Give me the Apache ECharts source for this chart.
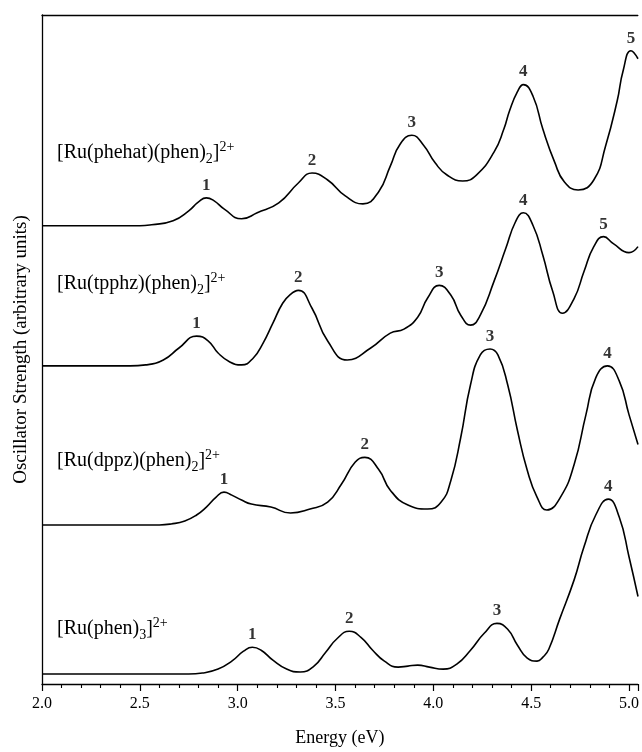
<!DOCTYPE html>
<html>
<head>
<meta charset="utf-8">
<script src="https://cdn.jsdelivr.net/npm/echarts@6/dist/echarts.min.js"></script>
<style>
html,body{margin:0;padding:0;background:#fff;}
#chart{width:642px;height:752px;}
</style>
</head>
<body>
<div id="chart"></div>
<script>
// Energy (eV) range shown
const energyMin = 2.0;
const energyMax = 5.045;
const tickValues = [2.0, 2.5, 3.0, 3.5, 4.0, 4.5, 5.0];

// Vertical offsets of each spectrum (arbitrary units)
const offsets = { phehat: 46.1, tpphz: 32.0, dppz: 16.0, phen3: 1.0 };

// Spectra: [energy (eV), oscillator strength above own baseline (arb. units)]
const phehat = [[2.0,0],[2.5,0],[2.56,0.1],[2.67,0.5],[2.75,1.5],[2.80,2.4],[2.84,2.8],[2.88,2.5],[2.93,1.7],[3.02,0.7],[3.10,1.3],[3.21,2.3],[3.31,4.3],[3.38,5.3],[3.46,4.6],[3.55,3.0],[3.64,2.2],[3.72,3.4],[3.78,6.0],[3.83,8.2],[3.89,9.1],[3.95,8.1],[4.01,6.3],[4.07,5.1],[4.15,4.5],[4.22,5.1],[4.31,7.4],[4.36,9.7],[4.39,11.6],[4.43,13.5],[4.46,14.2],[4.51,13.0],[4.56,9.7],[4.62,6.4],[4.67,4.4],[4.74,3.6],[4.82,4.6],[4.88,8.0],[4.94,12.6],[4.97,15.6],[5.01,17.6],[5.046,16.8]];
const tpphz = [[2.0,0],[2.45,0],[2.53,0.1],[2.62,0.6],[2.70,1.8],[2.79,3.0],[2.85,2.5],[2.90,1.3],[2.96,0.4],[3.02,0.1],[3.08,0.8],[3.13,2.3],[3.18,4.3],[3.23,6.3],[3.27,7.2],[3.31,7.6],[3.38,5.8],[3.46,2.5],[3.56,0.6],[3.68,1.8],[3.78,3.3],[3.85,3.7],[3.92,4.9],[3.97,6.8],[4.03,8.1],[4.09,7.1],[4.14,5.1],[4.19,4.1],[4.24,5.1],[4.31,8.5],[4.37,11.8],[4.42,14.5],[4.46,15.4],[4.51,14.1],[4.56,11.1],[4.61,7.5],[4.66,5.3],[4.72,6.8],[4.77,9.5],[4.82,12.0],[4.87,13.0],[4.92,12.3],[5.00,11.4],[5.046,12.0]];
const dppz = [[2.0,0],[2.60,0],[2.66,0.1],[2.73,0.4],[2.79,1.0],[2.84,1.8],[2.89,2.8],[2.93,3.3],[2.97,3.0],[3.02,2.5],[3.07,2.1],[3.17,1.8],[3.27,1.2],[3.37,1.6],[3.46,2.3],[3.53,4.1],[3.60,6.3],[3.65,6.8],[3.72,5.6],[3.78,3.5],[3.87,2.0],[3.97,1.6],[4.04,2.3],[4.09,4.5],[4.14,8.8],[4.19,14.1],[4.24,17.1],[4.29,17.7],[4.33,17.1],[4.38,14.1],[4.43,9.5],[4.48,5.5],[4.53,2.8],[4.58,1.5],[4.65,2.8],[4.72,6.1],[4.78,11.1],[4.83,14.8],[4.89,16.0],[4.95,14.5],[5.00,11.1],[5.046,8.1]];
const phen3 = [[2.0,0],[2.75,0],[2.82,0.1],[2.90,0.5],[2.97,1.3],[3.03,2.3],[3.075,2.7],[3.12,2.4],[3.18,1.4],[3.25,0.5],[3.32,0.2],[3.39,0.8],[3.45,2.2],[3.51,3.6],[3.57,4.3],[3.63,3.7],[3.69,2.4],[3.75,1.3],[3.82,0.7],[3.87,0.8],[3.92,0.9],[3.98,0.7],[4.05,0.5],[4.12,1.0],[4.19,2.4],[4.26,4.1],[4.325,5.1],[4.38,4.5],[4.43,2.9],[4.48,1.6],[4.53,1.3],[4.56,1.7],[4.59,2.5],[4.645,5.5],[4.72,9.5],[4.77,12.8],[4.83,16.0],[4.894,17.6],[4.95,15.8],[5.00,11.8],[5.046,7.8]];

// Peak numbering: [energy, label]
const phehatPeaks = [[2.84,'1'],[3.38,'2'],[3.89,'3'],[4.46,'4'],[5.01,'5']];
const tpphzPeaks = [[2.79,'1'],[3.31,'2'],[4.03,'3'],[4.46,'4'],[4.87,'5']];
const dppzPeaks = [[2.93,'1'],[3.65,'2'],[4.29,'3'],[4.89,'4']];
const phen3Peaks = [[3.075,'1'],[3.57,'2'],[4.325,'3'],[4.894,'4']];

// Compound names (rich text: {sub|..} subscript, {sup|..} superscript)
const compoundNames = {
  phehat: '[Ru(phehat)(phen){sub|2}]{sup|2+}',
  tpphz: '[Ru(tpphz)(phen){sub|2}]{sup|2+}',
  dppz: '[Ru(dppz)(phen){sub|2}]{sup|2+}',
  phen3: '[Ru(phen){sub|3}]{sup|2+}'
};

const xTitle = 'Energy (eV)';
const yTitle = 'Oscillator Strength (arbitrary units)';

const FONT = '"Liberation Serif", "Times New Roman", serif';
const yMax = 67.3;

function shifted(arr, off) { return arr.map(p => [p[0], p[1] + off]); }
function peakData(arr, peaks, off) {
  return peaks.map(pk => {
    let best = arr[0];
    arr.forEach(p => { if (Math.abs(p[0] - pk[0]) < Math.abs(best[0] - pk[0])) best = p; });
    return { value: [best[0], best[1] + off], name: pk[1] };
  });
}

const curves = [
  ['phehat', phehat, phehatPeaks],
  ['tpphz', tpphz, tpphzPeaks],
  ['dppz', dppz, dppzPeaks],
  ['phen3', phen3, phen3Peaks]
];

const series = [];
curves.forEach(([key, arr, peaks]) => {
  const off = offsets[key];
  series.push({
    type: 'line', name: key, data: shifted(arr, off),
    showSymbol: false, smooth: 0.5,
    lineStyle: { color: '#000', width: 1.6 }, clip: true, silent: true, animation: false
  });
  series.push({
    type: 'scatter', data: peakData(arr, peaks, off), symbolSize: 0,
    silent: true, animation: false,
    label: { show: true, position: 'top', distance: 4, formatter: p => p.name,
      fontFamily: FONT, fontWeight: 'bold', fontSize: 17, color: '#000' }
  });
});

const chart = echarts.init(document.getElementById('chart'), null, { renderer: 'canvas' });

const richStyles = {
  sub: { fontSize: 14, fontFamily: FONT, fill: '#000', verticalAlign: 'bottom', lineHeight: 26 },
  sup: { fontSize: 14, fontFamily: FONT, fill: '#000', verticalAlign: 'top', lineHeight: 26 }
};
const labelPos = { phehat: 153, tpphz: 284, dppz: 461, phen3: 629 };
const graphics = Object.keys(compoundNames).map(k => ({
  type: 'text', left: 57, top: labelPos[k] - 13, silent: true,
  style: { text: compoundNames[k], fontFamily: FONT, fontSize: 20, fill: '#000', lineHeight: 26, rich: richStyles }
}));

chart.setOption({
  animation: false,
  backgroundColor: '#fff',
  grid: { left: 42, right: 0, top: 15, bottom: 64, containLabel: false },
  xAxis: [{
    type: 'value', min: energyMin, max: energyMax, interval: 0.5, position: 'bottom',
    name: xTitle, nameLocation: 'middle', nameGap: 45,
    nameTextStyle: { fontFamily: FONT, fontSize: 18, color: '#000' },
    axisLine: { show: true, lineStyle: { color: '#000', width: 1.3 } },
    axisTick: { show: true, inside: false, length: 7, lineStyle: { color: '#000', width: 1.2 } },
    minorTick: { show: true, splitNumber: 5, length: 4, lineStyle: { color: '#000', width: 1.1 } },
    splitLine: { show: false }, minorSplitLine: { show: false },
    axisLabel: { margin: 12, fontFamily: FONT, fontSize: 16, color: '#000',
      formatter: v => tickValues.some(t => Math.abs(t - v) < 1e-6) ? v.toFixed(1) : '' }
  }, {
    type: 'value', min: energyMin, max: energyMax, position: 'top',
    axisLine: { show: true, lineStyle: { color: '#000', width: 1.3 } },
    axisTick: { show: false }, axisLabel: { show: false }, splitLine: { show: false }
  }],
  yAxis: {
    type: 'value', min: 0, max: yMax,
    name: yTitle, nameLocation: 'middle', nameGap: 11, nameRotate: 90,
    nameTextStyle: { fontFamily: FONT, fontSize: 19, color: '#000' },
    axisLine: { show: true, lineStyle: { color: '#000', width: 1.3 } },
    axisTick: { show: false }, axisLabel: { show: false }, splitLine: { show: false }
  },
  graphic: graphics,
  series: series
});
</script>
</body>
</html>
